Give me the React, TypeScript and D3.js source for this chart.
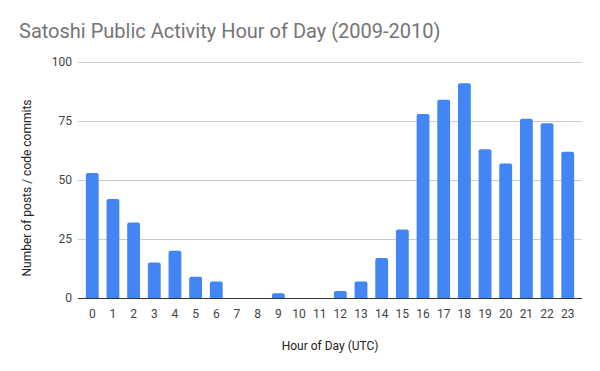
import React, { useEffect, useRef } from 'react'
import * as d3 from 'd3'

const hours = d3.range(24).map(String)
const counts = [53, 42, 32, 15, 20, 9, 7, 0, 0, 2, 0, 0, 3, 7, 17, 29, 78, 84, 91, 63, 57, 76, 74, 62]
const yTicks = [0, 25, 50, 75, 100]

const width = 600
const height = 371
const margin = { top: 62, right: 18, bottom: 73, left: 78 }

export default function App() {
    const node = useRef<SVGSVGElement>(null)

    useEffect(() => {
        const svg = d3.select(node.current)
        svg.selectAll('*').remove()

        const x = d3.scaleBand()
            .domain(hours)
            .range([margin.left, width - margin.right])
            .padding(0.38)

        const y = d3.scaleLinear()
            .domain([0, 100])
            .range([height - margin.bottom, margin.top])

        svg.append('rect')
            .attr('width', width)
            .attr('height', height)
            .attr('fill', '#fff')

        svg.append('text')
            .attr('x', 19)
            .attr('y', 38)
            .attr('fill', '#757575')
            .attr('font-size', 20)
            .text('Satoshi Public Activity Hour of Day (2009-2010)')

        // grid + y labels
        const grid = svg.append('g')
        grid.selectAll('line')
            .data(yTicks.filter(d => d > 0))
            .join('line')
            .attr('x1', margin.left)
            .attr('x2', width - margin.right)
            .attr('y1', d => y(d) + 0.5)
            .attr('y2', d => y(d) + 0.5)
            .attr('stroke', '#ccc')
        grid.selectAll('text')
            .data(yTicks)
            .join('text')
            .attr('x', margin.left - 6)
            .attr('y', d => y(d) + 4)
            .attr('text-anchor', 'end')
            .attr('fill', '#444')
            .attr('font-size', 12)
            .text(d => d)

        // bars with slightly rounded tops
        const r = 2
        svg.append('g')
            .attr('fill', '#4285f4')
            .selectAll('path')
            .data(counts.map((v, i) => ({ h: hours[i], v })).filter(d => d.v > 0))
            .join('path')
            .attr('d', d => {
                const x0 = x(d.h)!
                const w = x.bandwidth()
                const y0 = y(0)
                const y1 = y(d.v)
                const rr = Math.min(r, (y0 - y1) / 2)
                const p = d3.path()
                p.moveTo(x0, y0)
                p.lineTo(x0, y1 + rr)
                p.quadraticCurveTo(x0, y1, x0 + rr, y1)
                p.lineTo(x0 + w - rr, y1)
                p.quadraticCurveTo(x0 + w, y1, x0 + w, y1 + rr)
                p.lineTo(x0 + w, y0)
                p.closePath()
                return p.toString()
            })

        // baseline
        svg.append('line')
            .attr('x1', margin.left)
            .attr('x2', width - margin.right)
            .attr('y1', y(0) + 0.5)
            .attr('y2', y(0) + 0.5)
            .attr('stroke', '#333')

        svg.append('g')
            .selectAll('text')
            .data(hours)
            .join('text')
            .attr('x', d => x(d)! + x.bandwidth() / 2)
            .attr('y', y(0) + 20)
            .attr('text-anchor', 'middle')
            .attr('fill', '#444')
            .attr('font-size', 12)
            .text(d => d)

        svg.append('text')
            .attr('x', (margin.left + width - margin.right) / 2)
            .attr('y', 350)
            .attr('text-anchor', 'middle')
            .attr('fill', '#222')
            .attr('font-size', 12)
            .text('Hour of Day (UTC)')

        svg.append('text')
            .attr('transform', `translate(31,188) rotate(-90)`)
            .attr('text-anchor', 'middle')
            .attr('fill', '#222')
            .attr('font-size', 12)
            .text('Number of posts / code commits')
    }, [])

    return (
        <svg ref={node} width={width} height={height}
            style={{ position: 'absolute', left: 0, top: 0, fontFamily: 'Roboto, sans-serif' }} />
    )
}
